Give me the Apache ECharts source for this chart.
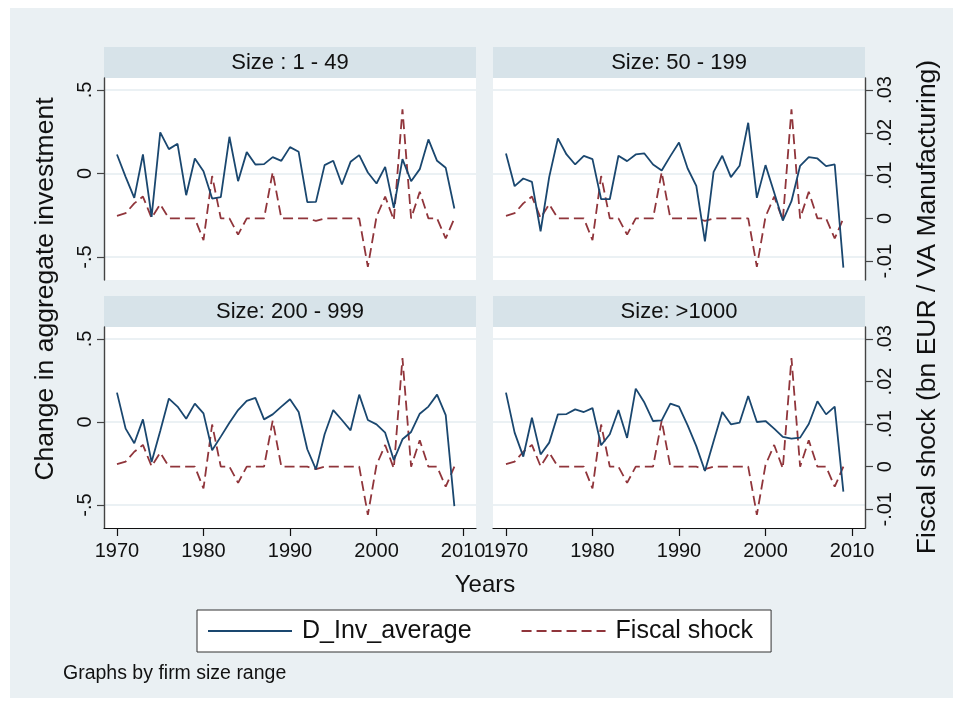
<!DOCTYPE html>
<html>
<head>
<meta charset="utf-8">
<script src="https://cdn.jsdelivr.net/npm/echarts@6/dist/echarts.min.js"></script>
<style>
  html, body { margin: 0; padding: 0; background: #ffffff; }
  #wrap { position: relative; width: 962px; height: 706px; }
  #bg { position: absolute; left: 10px; top: 8px; width: 943px; height: 690px; background: #eaf0f3; }
  #chart { position: absolute; left: 0; top: 0; width: 962px; height: 706px; }
</style>
</head>
<body>
<div id="wrap"><div id="bg"></div><div id="chart"></div></div>
<script>
// Annual observations, one value per year
const years = [1970, 1971, 1972, 1973, 1974, 1975, 1976, 1977, 1978, 1979,
               1980, 1981, 1982, 1983, 1984, 1985, 1986, 1987, 1988, 1989,
               1990, 1991, 1992, 1993, 1994, 1995, 1996, 1997, 1998, 1999,
               2000, 2001, 2002, 2003, 2004, 2005, 2006, 2007, 2008, 2009];

// Change in aggregate investment by firm size range
const invSize1to49 = [0.114, -0.02, -0.146, 0.114, -0.26, 0.246, 0.146, 0.178, -0.13, 0.09,
                      0.014, -0.15, -0.142, 0.22, -0.046, 0.128, 0.054, 0.056, 0.098, 0.076,
                      0.158, 0.13, -0.172, -0.17, 0.05, 0.076, -0.066, 0.07, 0.11, 0.006,
                      -0.06, 0.04, -0.206, 0.086, -0.046, 0.026, 0.204, 0.076, 0.034, -0.21];
const invSize50to199 = [0.12, -0.076, -0.03, -0.05, -0.346, -0.02, 0.21, 0.114, 0.054, 0.106,
                        0.086, -0.154, -0.154, 0.106, 0.074, 0.114, 0.12, 0.054, 0.018, 0.104,
                        0.186, 0.03, -0.074, -0.406, 0.01, 0.106, -0.022, 0.046, 0.304, -0.146,
                        0.05, -0.114, -0.282, -0.166, 0.046, 0.098, 0.09, 0.044, 0.054, -0.564];
const invSize200to999 = [0.177, -0.04, -0.128, 0.016, -0.241, -0.054, 0.141, 0.093, 0.02, 0.111,
                         0.052, -0.17, -0.088, -0.004, 0.072, 0.127, 0.145, 0.016, 0.046, 0.093,
                         0.137, 0.06, -0.164, -0.285, -0.074, 0.072, 0.012, -0.05, 0.165, 0.012,
                         -0.014, -0.064, -0.229, -0.104, -0.06, 0.05, 0.093, 0.165, 0.042, -0.506];
const invSizeOver1000 = [0.177, -0.064, -0.208, 0.026, -0.195, -0.124, 0.046, 0.048, 0.076, 0.06,
                         0.084, -0.14, -0.074, 0.072, -0.096, 0.201, 0.117, 0.006, 0.01, 0.111,
                         0.093, -0.02, -0.145, -0.295, -0.116, 0.06, -0.014, -0.004, 0.157, 0,
                         0.006, -0.04, -0.09, -0.1, -0.094, -0.012, 0.125, 0.046, 0.093, -0.419];

// Fiscal shock (bn EUR / VA Manufacturing), common to all panels
const fiscalShock = [0.0006, 0.0012, 0.0035, 0.0051, 0.0001, 0.0033, 0, 0, 0, 0,
                     -0.0051, 0.0099, 0, 0, -0.0038, 0, 0, 0, 0.0108, 0,
                     0, 0, 0, -0.0006, 0, 0, 0, 0, 0, -0.0113,
                     0.0004, 0.0051, -0.0004, 0.0255, 0, 0.0062, 0, 0, -0.0047, 0];

const panelTitles = ['Size : 1 - 49', 'Size: 50 - 199', 'Size: 200 - 999', 'Size: >1000'];
const invByPanel = [invSize1to49, invSize50to199, invSize200to999, invSizeOver1000];

// Tick labels
const yearTicks = [1970, 1980, 1990, 2000, 2010];
const invTicks = [-0.5, 0, 0.5];
const fiscalTicks = [-0.01, 0, 0.01, 0.02, 0.03];

const FONT = '"Liberation Sans", Arial, Helvetica, sans-serif';
const BLUE = '#1a476f';
const RED = '#90353b';

// Panel layout
const panels = [
  { left: 104, top: 78, width: 372, height: 202, leftAxis: true, rightAxis: false, bottomAxis: false },
  { left: 493, top: 78, width: 372, height: 202, leftAxis: false, rightAxis: true, bottomAxis: false },
  { left: 104, top: 327, width: 372, height: 201, leftAxis: true, rightAxis: false, bottomAxis: true },
  { left: 493, top: 327, width: 372, height: 201, leftAxis: false, rightAxis: true, bottomAxis: true }
];

const stripLeadingZero = v => {
  if (Math.abs(v) < 1e-12) return '0';
  return String(Number(v.toFixed(4))).replace('0.', '.');
};

const grid = [], xAxis = [], yAxis = [], series = [], graphic = [];

panels.forEach((p, i) => {
  grid.push({
    left: p.left, top: p.top, width: p.width, height: p.height,
    show: true, backgroundColor: '#ffffff', borderWidth: 0
  });
  xAxis.push({
    type: 'value', gridIndex: i, min: 1968.5, max: 2011.5,
    show: p.bottomAxis,
    axisLine: { show: true, onZero: false, lineStyle: { color: '#111', width: 1.2 } },
    axisTick: { show: true, length: 8, customValues: yearTicks, lineStyle: { color: '#111', width: 1.2 } },
    axisLabel: { customValues: yearTicks, margin: 13, fontSize: 20, color: '#111', fontFamily: FONT,
                 formatter: v => String(v) },
    splitLine: { show: false }
  });
  // investment (left scale)
  yAxis.push({
    type: 'value', gridIndex: i, position: 'left', min: -0.638, max: 0.572,
    axisLine: { show: p.leftAxis, lineStyle: { color: '#444', width: 1.4 } },
    axisTick: { show: p.leftAxis, length: 7, customValues: invTicks, lineStyle: { color: '#444', width: 1.2 } },
    axisLabel: { show: p.leftAxis, customValues: invTicks, rotate: 90, margin: 9, fontSize: 20,
                 color: '#111', fontFamily: FONT, formatter: stripLeadingZero },
    splitLine: { show: true, lineStyle: { color: '#e4ecf0', width: 1.6 } }
  });
  // fiscal shock (right scale)
  yAxis.push({
    type: 'value', gridIndex: i, position: 'right', min: -0.0144, max: 0.0328,
    axisLine: { show: p.rightAxis, lineStyle: { color: '#444', width: 1.4 } },
    axisTick: { show: p.rightAxis, length: 8, customValues: fiscalTicks, lineStyle: { color: '#444', width: 1.2 } },
    axisLabel: { show: p.rightAxis, customValues: fiscalTicks, rotate: 90, margin: 10, fontSize: 20,
                 color: '#111', fontFamily: FONT, formatter: stripLeadingZero },
    splitLine: { show: false }
  });

  series.push({
    name: 'D_Inv_average', type: 'line', xAxisIndex: i, yAxisIndex: 2 * i,
    data: years.map((yr, k) => [yr, invByPanel[i][k]]),
    symbol: 'none', silent: true,
    lineStyle: { color: BLUE, width: 1.8 }, itemStyle: { color: BLUE }, z: 3
  });
  series.push({
    name: 'Fiscal shock', type: 'line', xAxisIndex: i, yAxisIndex: 2 * i + 1,
    data: years.map((yr, k) => [yr, fiscalShock[k]]),
    symbol: 'none', silent: true,
    lineStyle: { color: RED, width: 1.8, type: [10, 5] }, itemStyle: { color: RED }, z: 2
  });

  // panel header strip
  graphic.push({
    type: 'rect', silent: true,
    shape: { x: p.left, y: p.top - 31, width: p.width, height: 31 },
    style: { fill: '#d7e3e9' }
  });
  graphic.push({
    type: 'text', silent: true,
    x: p.left + p.width / 2, y: p.top - 15.5,
    style: { text: panelTitles[i], fill: '#111', font: '22px ' + FONT, align: 'center', verticalAlign: 'middle' }
  });
});

// axis titles and note
graphic.push({
  type: 'text', silent: true, x: 46, y: 289, rotation: Math.PI / 2,
  style: { text: 'Change in aggregate investment', fill: '#111', font: '26.5px ' + FONT, align: 'center', verticalAlign: 'middle' }
});
graphic.push({
  type: 'text', silent: true, x: 928, y: 307, rotation: Math.PI / 2,
  style: { text: 'Fiscal shock (bn EUR / VA Manufacturing)', fill: '#111', font: '26.5px ' + FONT, align: 'center', verticalAlign: 'middle' }
});
graphic.push({
  type: 'text', silent: true, x: 485, y: 585,
  style: { text: 'Years', fill: '#111', font: '24px ' + FONT, align: 'center', verticalAlign: 'middle' }
});
graphic.push({
  type: 'text', silent: true, x: 63, y: 674,
  style: { text: 'Graphs by firm size range', fill: '#111', font: '19.5px ' + FONT, align: 'left', verticalAlign: 'middle' }
});

const chart = echarts.init(document.getElementById('chart'), null, { renderer: 'canvas' });
chart.setOption({
  backgroundColor: 'transparent',
  animation: false,
  grid, xAxis, yAxis, series, graphic,
  legend: {
    data: ['D_Inv_average', 'Fiscal shock'],
    left: 197, top: 610,
    selectedMode: false,
    backgroundColor: '#ffffff', borderColor: '#333', borderWidth: 1,
    padding: [8, 18, 8, 10],
    itemWidth: 84, itemHeight: 16, itemGap: 49,
    itemStyle: { opacity: 0 },
    textStyle: { fontSize: 25, lineHeight: 26, color: '#111', fontFamily: FONT, padding: [0, 0, 0, 5] }
  }
});
</script>
</body>
</html>
